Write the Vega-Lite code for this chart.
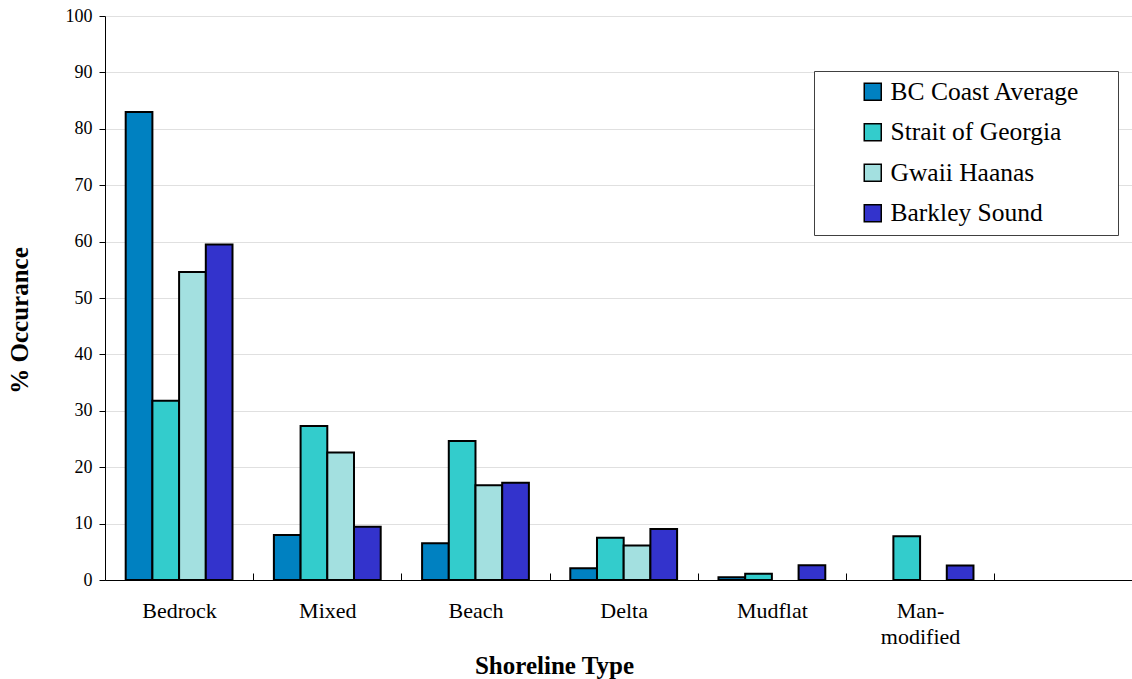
{
  "$schema": "https://vega.github.io/schema/vega-lite/v6.json",
  "width": 1027,
  "height": 564,
  "autosize": {"type": "none"},
  "padding": {"left": 105, "top": 16, "right": 0, "bottom": 99},
  "background": "white",
  "config": {
    "view": {"stroke": null},
    "font": "Liberation Serif",
    "axis": {"labelFont": "Liberation Serif", "titleFont": "Liberation Serif"},
    "legend": {"labelFont": "Liberation Serif", "titleFont": "Liberation Serif"}
  },
  "data": {
    "values": [
      {"type": "Bedrock", "region": "BC Coast Average", "pct": 83.0},
      {"type": "Bedrock", "region": "Strait of Georgia", "pct": 31.8},
      {"type": "Bedrock", "region": "Gwaii Haanas", "pct": 54.6},
      {"type": "Bedrock", "region": "Barkley Sound", "pct": 59.5},
      {"type": "Mixed", "region": "BC Coast Average", "pct": 8.0},
      {"type": "Mixed", "region": "Strait of Georgia", "pct": 27.3},
      {"type": "Mixed", "region": "Gwaii Haanas", "pct": 22.6},
      {"type": "Mixed", "region": "Barkley Sound", "pct": 9.45},
      {"type": "Beach", "region": "BC Coast Average", "pct": 6.5},
      {"type": "Beach", "region": "Strait of Georgia", "pct": 24.65},
      {"type": "Beach", "region": "Gwaii Haanas", "pct": 16.8},
      {"type": "Beach", "region": "Barkley Sound", "pct": 17.25},
      {"type": "Delta", "region": "BC Coast Average", "pct": 2.1},
      {"type": "Delta", "region": "Strait of Georgia", "pct": 7.5},
      {"type": "Delta", "region": "Gwaii Haanas", "pct": 6.1},
      {"type": "Delta", "region": "Barkley Sound", "pct": 9.05},
      {"type": "Mudflat", "region": "BC Coast Average", "pct": 0.5},
      {"type": "Mudflat", "region": "Strait of Georgia", "pct": 1.1},
      {"type": "Mudflat", "region": "Barkley Sound", "pct": 2.6},
      {"type": "Man-modified", "region": "Strait of Georgia", "pct": 7.75},
      {"type": "Man-modified", "region": "Barkley Sound", "pct": 2.55}
    ]
  },
  "mark": {"type": "bar", "stroke": "black", "strokeWidth": 2},
  "encoding": {
    "x": {
      "field": "type",
      "type": "nominal",
      "sort": ["Bedrock", "Mixed", "Beach", "Delta", "Mudflat", "Man-modified"],
      "scale": {"paddingInner": 0, "paddingOuter": 0.465, "align": 0},
      "axis": {
        "title": "Shoreline Type",
        "titleFont": "Liberation Serif",
        "titleFontSize": 25,
        "titleFontWeight": "bold",
        "titleColor": "black",
        "titleX": 449,
        "titleY": 85,
        "titleBaseline": "middle",
        "labelFont": "Liberation Serif",
        "labelFontSize": 22,
        "labelColor": "black",
        "labelAngle": 0,
        "labelPadding": 27,
        "labelLineHeight": 26,
        "labelExpr": "datum.label == 'Man-modified' ? ['Man-', 'modified'] : datum.label",
        "tickSize": -7,
        "tickBand": "extent",
        "tickColor": "black",
        "domainColor": "black",
        "grid": false
      }
    },
    "xOffset": {
      "field": "region",
      "sort": ["BC Coast Average", "Strait of Georgia", "Gwaii Haanas", "Barkley Sound"],
      "scale": {"domain": ["BC Coast Average", "Strait of Georgia", "Gwaii Haanas", "Barkley Sound"], "paddingInner": 0, "paddingOuter": 0.775}
    },
    "y": {
      "field": "pct",
      "type": "quantitative",
      "scale": {"domain": [0, 100], "nice": false},
      "axis": {
        "title": "% Occurance",
        "titleFont": "Liberation Serif",
        "titleFontSize": 25,
        "titleFontWeight": "bold",
        "titleColor": "black",
        "titleX": -86,
        "titleY": 304,
        "titleBaseline": "middle",
        "values": [0, 10, 20, 30, 40, 50, 60, 70, 80, 90, 100],
        "labelFont": "Liberation Serif",
        "labelFontSize": 18,
        "labelColor": "black",
        "labelPadding": 7,
        "tickSize": 6,
        "tickColor": "black",
        "domainColor": "black",
        "gridColor": "#e0e0e0"
      }
    },
    "color": {
      "field": "region",
      "type": "nominal",
      "sort": ["BC Coast Average", "Strait of Georgia", "Gwaii Haanas", "Barkley Sound"],
      "scale": {
        "domain": ["BC Coast Average", "Strait of Georgia", "Gwaii Haanas", "Barkley Sound"],
        "range": ["#0081C1", "#33CCCC", "#A3E0E0", "#3333CC"]
      },
      "legend": {
        "title": "\u00a0",
        "titleOrient": "right",
        "titlePadding": 30,
        "titleFontSize": 2,
        "orient": "none",
        "legendX": 709,
        "legendY": 55,
        "padding": 8,
        "symbolOffset": 38,
        "symbolType": "square",
        "symbolSize": 289,
        "symbolStrokeColor": "black",
        "symbolStrokeWidth": 1.5,
        "symbolOpacity": 1,
        "labelFont": "Liberation Serif",
        "labelFontSize": 25.5,
        "labelColor": "black",
        "labelOffset": 5,
        "labelLimit": 400,
        "rowPadding": 13.5,
        "strokeColor": "#404040",
        "fillColor": "white"
      }
    }
  }
}
